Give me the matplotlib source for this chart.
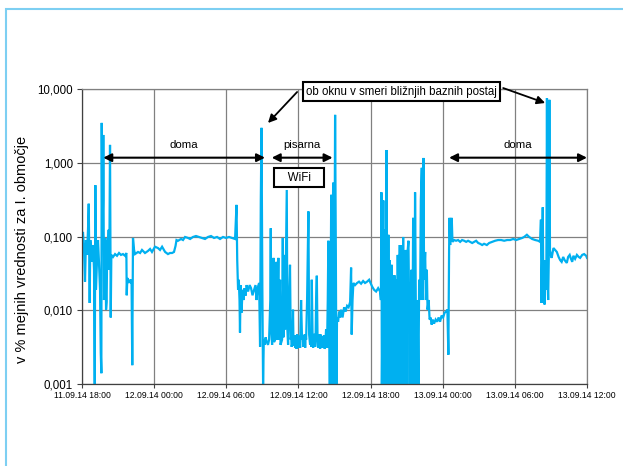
import datetime
import numpy as np
import pandas as pd
import matplotlib
matplotlib.use('Agg')
import matplotlib.pyplot as plt
import matplotlib.dates as mdates
from matplotlib.ticker import FixedLocator, FuncFormatter, NullLocator

plt.rcParams['font.family'] = ['Liberation Sans', 'DejaVu Sans']

# # Measurement data: hours since 11.09.14 18:00 and value in % of limit
# evening at home, first day
evening_h = [0.00, 0.08, 0.17, 0.25, 0.33, 0.42, 0.50, 0.56, 0.61, 0.64, 0.69, 0.75, 0.83, 0.92,
             1.00, 1.06, 1.11, 1.16, 1.25, 1.33, 1.41, 1.50, 1.56, 1.61, 1.64, 1.69, 1.75, 1.77,
             1.83, 1.89, 1.94, 2.00, 2.05, 2.10, 2.16, 2.22, 2.27, 2.33, 2.39, 2.44, 2.58, 2.75,
             2.91, 3.08, 3.24, 3.41, 3.58, 3.69, 3.72, 3.77, 3.87, 3.95, 4.03, 4.12, 4.18, 4.24]
evening_v = [0.077, 0.116, 0.066, 0.0245, 0.090, 0.0565, 0.124, 0.28, 0.048, 0.0126, 0.090, 0.066, 0.0455, 0.077,
             0.0355, 0.001, 0.50, 0.019, 0.048, 0.090, 0.0455, 0.019, 0.00265, 0.0014, 3.5, 0.066, 0.31, 2.4,
             0.0138, 0.048, 0.096, 0.0102, 0.013, 0.090, 0.066, 0.124, 0.0355, 1.76, 0.0080, 0.0565, 0.053, 0.058,
             0.055, 0.060, 0.0565, 0.058, 0.055, 0.060, 0.016, 0.0275, 0.0235, 0.026, 0.0245, 0.026, 0.0018, 0.096]

# night at home
night_h = [4.33, 4.41, 4.66, 4.83, 4.99, 5.24, 5.49, 5.66, 5.82, 6.07, 6.32, 6.49, 6.66, 6.91,
           7.15, 7.32, 7.49, 7.65, 7.78, 7.86, 7.99, 8.24, 8.40, 8.57, 8.82, 8.99, 9.23, 9.48,
           9.73, 9.98, 10.23, 10.48, 10.73, 10.98, 11.23, 11.48, 11.73, 11.98, 12.23, 12.48, 12.73]
night_v = [0.066, 0.058, 0.062, 0.060, 0.066, 0.060, 0.064, 0.068, 0.062, 0.073, 0.070, 0.066, 0.073, 0.062,
           0.058, 0.060, 0.060, 0.062, 0.075, 0.090, 0.088, 0.093, 0.090, 0.099, 0.096, 0.093, 0.099, 0.102,
           0.099, 0.096, 0.093, 0.099, 0.102, 0.096, 0.099, 0.093, 0.099, 0.096, 0.099, 0.096, 0.093]

# morning
morning_h = [12.85, 12.91, 12.98, 13.04, 13.10, 13.14, 13.19, 13.27, 13.35, 13.44, 13.52, 13.60,
             13.69, 13.81, 13.94, 14.06, 14.18, 14.31, 14.43, 14.52, 14.60, 14.73, 14.81]
morning_v = [0.27, 0.048, 0.019, 0.026, 0.0138, 0.0050, 0.022, 0.0093, 0.019, 0.0138, 0.020, 0.0158,
             0.022, 0.018, 0.022, 0.020, 0.016, 0.019, 0.022, 0.0138, 0.020, 0.0235, 0.0032]

# office
office_h = [14.87, 14.93, 15.00, 15.06, 15.12, 15.18, 15.27, 15.37, 15.47, 15.56, 15.66, 15.70, 15.74,
            15.81, 15.89, 15.93, 15.97, 16.06, 16.14, 16.18, 16.22, 16.33, 16.39, 16.47, 16.51, 16.64,
            16.70, 16.75, 16.83, 16.89, 17.03, 17.08, 17.14, 17.22, 17.30, 17.36, 17.40, 17.43, 17.47,
            17.51, 17.55, 17.59, 17.64, 17.68, 17.72, 17.76, 17.80, 17.85, 17.89, 17.93, 17.97, 18.02,
            18.06, 18.10, 18.14, 18.22, 18.30, 18.35, 18.39, 18.43, 18.47, 18.52, 18.56, 18.60, 18.64,
            18.72, 18.83, 18.89, 18.97, 19.02, 19.06, 19.11, 19.18, 19.22, 19.26, 19.30, 19.35, 19.39,
            19.43, 19.47, 19.53, 19.59, 19.64, 19.68, 19.72, 19.76, 19.80, 19.84, 19.89, 19.93, 19.97,
            20.01, 20.05, 20.09, 20.14, 20.18, 20.22, 20.30, 20.38, 20.44, 20.49, 20.55, 20.61, 20.67,
            20.73, 20.78, 20.83, 20.89, 20.94, 20.99, 21.05, 21.11, 21.16, 21.21, 21.30, 21.38, 21.46,
            21.55, 21.67, 21.80, 21.92, 22.05, 22.17, 22.30, 22.38, 22.43, 22.50]
office_v = [0.31, 3.0, 0.019, 0.001, 0.0040, 0.0034, 0.0043, 0.0037, 0.0034, 0.0040, 0.0138, 0.13, 0.0055,
            0.0034, 0.0138, 0.0515, 0.0037, 0.0040, 0.0138, 0.0455, 0.0040, 0.0515, 0.0040, 0.026, 0.0034, 0.0040,
            0.096, 0.0043, 0.0565, 0.0055, 0.43, 0.0055, 0.0034, 0.0138, 0.0415, 0.0040, 0.0045, 0.0032, 0.0034,
            0.0048, 0.0102, 0.0033, 0.0040, 0.0046, 0.0031, 0.0044, 0.0034, 0.0030, 0.0047, 0.0033, 0.0043, 0.0045,
            0.0031, 0.0042, 0.0031, 0.0138, 0.0040, 0.0046, 0.0032, 0.0044, 0.0034, 0.0047, 0.0031, 0.0045, 0.0040,
            0.0138, 0.22, 0.0047, 0.0034, 0.0046, 0.0032, 0.026, 0.0040, 0.0031, 0.0045, 0.0034, 0.0048, 0.0032,
            0.0044, 0.0138, 0.0295, 0.0040, 0.0031, 0.0046, 0.0034, 0.0047, 0.0030, 0.0047, 0.0033, 0.0045, 0.0031,
            0.0044, 0.0032, 0.0040, 0.0046, 0.0030, 0.0032, 0.0055, 0.0031, 0.0138, 0.088, 0.0055, 0.001, 0.0138,
            0.37, 0.001, 0.066, 0.54, 0.001, 0.0138, 4.5, 0.066, 0.001, 0.0080, 0.0070, 0.0096, 0.0080,
            0.0102, 0.0080, 0.011, 0.0096, 0.0115, 0.011, 0.013, 0.038, 0.0047, 0.0138]

# second evening
evening2_h = [22.57, 22.71, 22.88, 23.04, 23.21, 23.38, 23.54, 23.71, 23.88, 24.00, 24.13, 24.29, 24.46,
              24.63, 24.79, 24.86, 24.90, 24.94, 25.00, 25.06, 25.11, 25.17, 25.22, 25.27, 25.33, 25.38,
              25.43, 25.48, 25.54, 25.59, 25.64, 25.69, 25.75, 25.81, 25.87, 25.92, 25.98, 26.04, 26.10,
              26.15, 26.21, 26.26, 26.31, 26.37, 26.43, 26.49, 26.54, 26.60, 26.65, 26.71, 26.76, 26.81,
              26.87, 26.93, 26.98, 27.04, 27.09, 27.15, 27.20, 27.25, 27.30, 27.35, 27.41, 27.47, 27.54,
              27.59, 27.64, 27.70, 27.75, 27.80, 27.87, 27.92, 27.98, 28.04, 28.12, 28.18, 28.26, 28.31,
              28.37, 28.40, 28.45, 28.54, 28.60, 28.68, 28.74, 28.83, 28.91, 28.99, 29.08, 29.16, 29.28,
              29.41, 29.53, 29.66, 29.78, 29.91, 30.03, 30.16, 30.28, 30.39, 30.47]
evening2_v = [0.0235, 0.022, 0.0235, 0.0245, 0.023, 0.025, 0.0235, 0.0245, 0.026, 0.0235, 0.021, 0.019, 0.018,
              0.020, 0.018, 0.0138, 0.40, 0.001, 0.0138, 0.31, 0.001, 0.0355, 0.124, 0.001, 1.5, 0.0138,
              0.001, 0.106, 0.001, 0.048, 0.019, 0.001, 0.0415, 0.001, 0.0138, 0.001, 0.030, 0.0055, 0.001,
              0.026, 0.001, 0.0565, 0.001, 0.0138, 0.077, 0.001, 0.0138, 0.077, 0.001, 0.099, 0.001, 0.019,
              0.001, 0.066, 0.001, 0.0138, 0.066, 0.088, 0.0138, 0.001, 0.0235, 0.001, 0.0355, 0.001, 0.18,
              0.0055, 0.001, 0.40, 0.026, 0.001, 0.0138, 0.0080, 0.001, 0.026, 0.0138, 0.31, 0.86, 0.0138,
              0.090, 1.17, 0.026, 0.062, 0.0138, 0.0355, 0.0102, 0.0138, 0.0075, 0.0080, 0.0064, 0.0075, 0.0066,
              0.0075, 0.0070, 0.0080, 0.0070, 0.0085, 0.0080, 0.0093, 0.0096, 0.0102, 0.0025]

# third day at home
day3_h = [30.53, 30.57, 30.62, 30.68, 30.75, 30.81, 30.95, 31.11, 31.28, 31.45, 31.61, 31.78, 31.95,
          32.11, 32.28, 32.45, 32.61, 32.78, 32.95, 33.11, 33.28, 33.44, 33.67, 33.86, 34.11, 34.36,
          34.61, 34.86, 35.11, 35.36, 35.61, 35.86, 36.11, 36.36, 36.61, 36.77, 37.00, 37.19, 37.44,
          37.69, 37.94, 38.10, 38.17, 38.21, 38.27, 38.32, 38.37, 38.42, 38.47, 38.52, 38.57, 38.62,
          38.67, 38.72, 38.77, 38.82, 38.87, 38.92, 38.98, 39.06, 39.21, 39.35, 39.49, 39.64, 39.77,
          39.89, 40.02, 40.14, 40.32, 40.43, 40.56, 40.64, 40.77, 40.87, 41.01, 41.16, 41.31, 41.43,
          41.60, 41.76, 41.93, 42.00]
day3_v = [0.066, 0.18, 0.077, 0.145, 0.18, 0.085, 0.090, 0.088, 0.090, 0.085, 0.090, 0.088, 0.085,
          0.088, 0.085, 0.082, 0.085, 0.088, 0.082, 0.080, 0.077, 0.080, 0.077, 0.082, 0.085, 0.088,
          0.090, 0.090, 0.088, 0.090, 0.090, 0.093, 0.090, 0.093, 0.096, 0.099, 0.106, 0.099, 0.093,
          0.090, 0.088, 0.085, 0.17, 0.0126, 0.048, 0.25, 0.019, 0.0355, 0.012, 0.048, 0.019, 0.0355,
          7.6, 0.026, 0.0138, 0.048, 7.2, 0.066, 0.0565, 0.0515, 0.070, 0.066, 0.062, 0.053, 0.048,
          0.0455, 0.053, 0.048, 0.044, 0.053, 0.0565, 0.0515, 0.0455, 0.055, 0.050, 0.0565, 0.053, 0.0515,
          0.0565, 0.058, 0.055, 0.0515]

hours = np.array(evening_h + night_h + morning_h + office_h + evening2_h + day3_h)
values = np.array(evening_v + night_v + morning_v + office_v + evening2_v + day3_v)

start = pd.Timestamp('2014-09-11 18:00')
end = pd.Timestamp('2014-09-13 12:00')
times = start + pd.to_timedelta(hours, unit='h')


def t(h):
    return mdates.date2num(start + datetime.timedelta(hours=h))


line_color = '#00b0f0'
grid_color = '#808080'

fig = plt.figure(figsize=(6.23, 4.66), dpi=100)
ax = fig.add_axes([82 / 623, 1 - 384 / 466, 505 / 623, (384 - 89.3) / 466])

# outer light-blue chart frame
fig.patches.append(plt.Rectangle((6 / 623, -0.1), 1.2, (466 - 9) / 466 + 0.1, transform=fig.transFigure,
                                 fill=False, ec='#7dcff2', lw=1.5))

ax.plot(times, values, color=line_color, lw=1.6, solid_joinstyle='miter')

ax.set_yscale('log')
ax.set_ylim(0.001, 10)
ax.set_xlim(t(0), t(42))
ax.yaxis.set_major_locator(FixedLocator([0.001, 0.01, 0.1, 1, 10]))
ax.yaxis.set_minor_locator(NullLocator())
ax.yaxis.set_major_formatter(FuncFormatter(lambda v, p: f'{v:.3f}'.replace('.', ',')))

ax.set_xticks(pd.date_range(start, end, freq='6h'))
ax.xaxis.set_major_formatter(mdates.DateFormatter('%d.%m.%y %H:%M'))
ax.xaxis.set_minor_locator(NullLocator())

ax.grid(True, color=grid_color, lw=0.9)
ax.set_axisbelow(True)
for s in ['top', 'right']:
    ax.spines[s].set_color(grid_color)
    ax.spines[s].set_linewidth(0.9)
for s in ['left', 'bottom']:
    ax.spines[s].set_color('#404040')
    ax.spines[s].set_linewidth(0.9)

ax.tick_params(axis='y', labelsize=8.3, length=3.5, width=0.8, color='#404040', pad=3)
ax.tick_params(axis='x', labelsize=6.2, length=3, width=0.8, color='#404040', pad=2)
ax.set_ylabel('v % mejnih vrednosti za I. območje', fontsize=10.5)
ax.yaxis.set_label_coords(-0.105, 0.458)

# location arrows
arrow_y = 1.18
text_y = 1.76
for x0, x1, label in [(1.77, 15.22, 'doma'), (15.78, 20.84, 'pisarna'), (30.53, 42.0, 'doma')]:
    ax.annotate('', xy=(t(x0), arrow_y), xytext=(t(x1), arrow_y),
                arrowprops=dict(arrowstyle='<|-|>', color='black', lw=1.5, mutation_scale=12,
                                shrinkA=0, shrinkB=0), annotation_clip=False)
    ax.text(t((x0 + x1) / 2), text_y, label, fontsize=8.2, ha='center', va='center')

ax.text(t(18.05), 0.63, '   WiFi   ', fontsize=8.3, ha='center', va='center',
        bbox=dict(boxstyle='square,pad=0.3', fc='white', ec='black', lw=1.5))

ax.text(t(26.58), 9.33, 'ob oknu v smeri bližnjih baznih postaj', fontsize=8.3, ha='center', va='center',
        bbox=dict(boxstyle='square,pad=0.3', fc='white', ec='black', lw=1.5), clip_on=False, zorder=5)
ax.annotate('', xy=(t(15.47), 3.49), xytext=(t(17.89), 9.19),
            arrowprops=dict(arrowstyle='-|>', color='black', lw=1.3, mutation_scale=12,
                            shrinkA=0, shrinkB=0), annotation_clip=False)
ax.annotate('', xy=(t(38.52), 6.52), xytext=(t(35.03), 10.4),
            arrowprops=dict(arrowstyle='-|>', color='black', lw=1.3, mutation_scale=12,
                            shrinkA=0, shrinkB=0), annotation_clip=False)

fig.savefig('out.png', dpi=100)
